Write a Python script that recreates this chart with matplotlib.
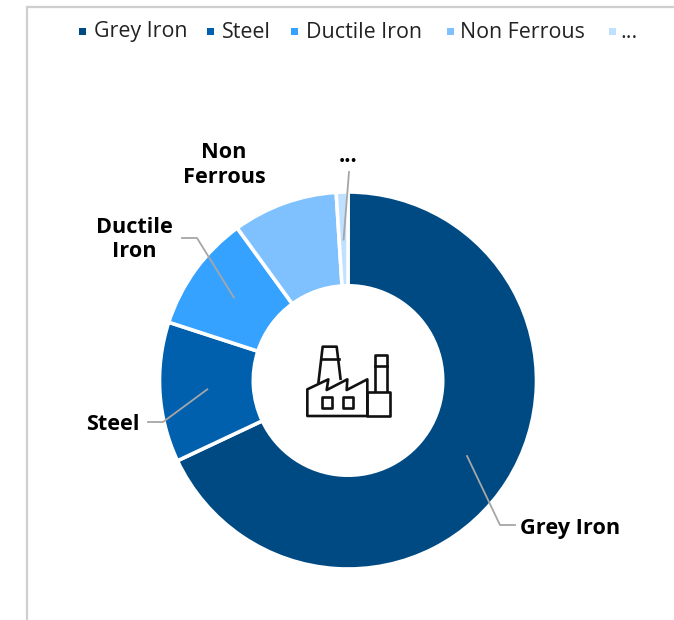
import numpy as np
import matplotlib.pyplot as plt
from matplotlib.patches import Polygon, Rectangle

plt.rcParams['font.family'] = ['Open Sans', 'DejaVu Sans']

W, H = 674, 620
cx, cy, R = 348, 380.5, 188.5

categories = ["Grey Iron", "Steel", "Ductile Iron", "Non Ferrous", "..."]
values = [68, 12, 10, 9, 1]
colors = ["#004A84", "#0060AE", "#36A2FF", "#7FC1FF", "#BFE0FF"]

legend_marker_x = [82, 210, 294, 450, 612]
legend_text_x = [94, 222, 306, 460, 620]

fig = plt.figure(figsize=(W / 100, H / 100), dpi=100)

# pixel overlay for frame, labels, leaders, icon
bg = fig.add_axes([0, 0, 1, 1])
bg.set_xlim(0, W)
bg.set_ylim(H, 0)
bg.axis("off")

bg.plot([27, 27, W], [H, 6.5, 6.5], color="#CFCFCF", lw=1.6, solid_joinstyle="miter")

ax = fig.add_axes([(cx - R) / W, 1 - (cy + R) / H, 2 * R / W, 2 * R / H])
ax.pie(values, colors=colors, startangle=90, counterclock=False, radius=1,
       wedgeprops=dict(width=93.8 / R, edgecolor="white", linewidth=2.6))
ax.set_xlim(-1, 1)
ax.set_ylim(-1, 1)
ax.set_aspect("equal")
ax.axis("off")

top = fig.add_axes([0, 0, 1, 1])
top.set_xlim(0, W)
top.set_ylim(H, 0)
top.axis("off")
top.patch.set_alpha(0)

# legend
for c, name, mx, tx in zip(colors, categories, legend_marker_x, legend_text_x):
    top.add_patch(Rectangle((mx - 3.5, 27.5), 7, 7, color=c, lw=0))
    top.text(tx, 32, name, fontsize=15.4, color="#222222", va="center", ha="left")

# leaders start at the middle of each ring segment
mids = (np.cumsum(values) - np.array(values) / 2) / sum(values) * 2 * np.pi
leader_ends = {0: [(500, 525), (515, 525)],
               1: [(163, 422), (148, 422)],
               2: [(197, 238), (182, 238)],
               4: [(349, 172)]}
for i, pts in leader_ends.items():
    sx = cx + 141 * np.sin(mids[i])
    sy = cy - 141 * np.cos(mids[i])
    xs = [sx] + [p[0] for p in pts]
    ys = [sy] + [p[1] for p in pts]
    top.plot(xs, ys, color="#A6A6A6", lw=1.3)

label_font = dict(fontsize=15.6, fontweight="bold", color="black", ha="center", va="center", linespacing=1.2)
top.text(570, 528.5, "Grey Iron", **label_font)
top.text(113, 424.5, "Steel", **label_font)
top.text(134, 239.5, "Ductile\nIron", **label_font)
top.text(224, 165, "Non\nFerrous", **label_font)
top.text(348, 156, "...", **label_font)

# factory icon
ik = dict(fill=False, edgecolor="#111111", lw=1.9, joinstyle="round")


def px(points):
    return [(270 + x / 3, 320 + y / 3) for x, y in points]


top.add_patch(Polygon(px([(112, 288), (112, 208), (175, 178), (170, 210), (232, 178),
                          (230, 210), (292, 178), (292, 288)]), closed=True, **ik))
top.add_patch(Polygon(px([(292, 215), (360, 215), (360, 288), (292, 288)]), closed=True, **ik))
top.add_patch(Polygon(px([(315, 215), (315, 105), (350, 105), (350, 215)]), closed=False, **ik))
top.add_patch(Polygon(px([(145, 190), (158, 80), (200, 80), (212, 180)]), closed=False, **ik))
top.add_patch(Polygon(px([(155, 232), (185, 232), (185, 265), (155, 265)]), closed=True, **ik))
top.add_patch(Polygon(px([(218, 232), (250, 232), (250, 265), (218, 265)]), closed=True, **ik))
for a, b in [((152, 117), (206, 117)), ((315, 137), (350, 137))]:
    p = px([a, b])
    top.plot([p[0][0], p[1][0]], [p[0][1], p[1][1]], color="#111111", lw=1.9)

fig.savefig("out.png", dpi=100)
